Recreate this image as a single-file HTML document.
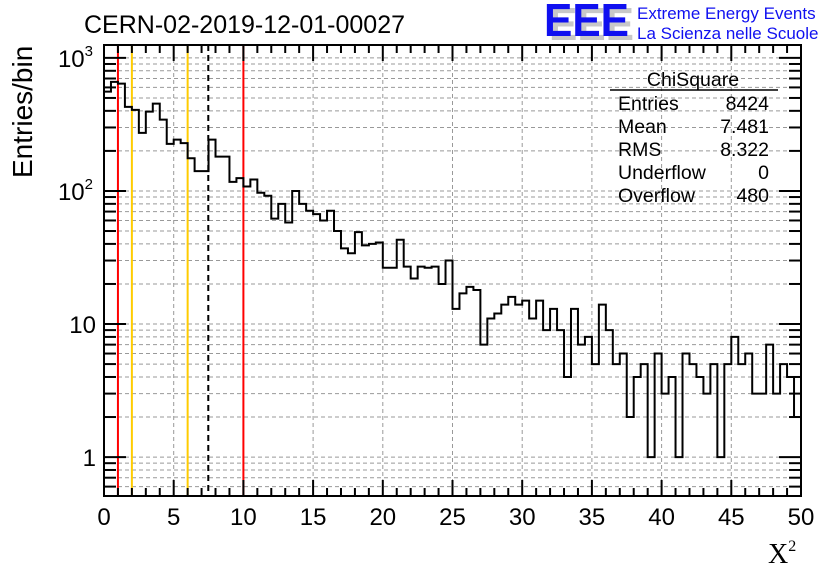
<!DOCTYPE html>
<html><head><meta charset="utf-8"><style>
body{margin:0;background:#fff}
svg{display:block;font-family:"Liberation Sans",sans-serif}
</style></head><body>
<svg id="c" width="836" height="572" viewBox="0 0 836 572" xmlns="http://www.w3.org/2000/svg">
<rect width="836" height="572" fill="#fff"/>
<g id="grid"></g>
<g id="vlines"></g>
<path id="hist" fill="none" stroke="#000" stroke-width="2"/>
<rect x="104" y="45" width="697" height="451" fill="none" stroke="#000" stroke-width="2"/>
<g id="ticks"></g>
<text x="84" y="33" font-size="25">CERN-02-2019-12-01-00027</text>
<g>
<text x="549" y="40" font-size="46" font-weight="bold" fill="#c8c8c8" textLength="85" lengthAdjust="spacingAndGlyphs">EEE</text>
<text x="544" y="36" font-size="46" font-weight="bold" fill="#1010f0" textLength="85" lengthAdjust="spacingAndGlyphs">EEE</text>
<text x="637" y="19" font-size="17" fill="#1010f0">Extreme Energy Events</text>
<text x="637" y="39" font-size="17" fill="#1010f0">La Scienza nelle Scuole</text>
</g>
<g font-size="19.5">
<text x="693" y="86" text-anchor="middle">ChiSquare</text>
<line x1="610" y1="90" x2="778" y2="90" stroke="#000" stroke-width="1.5"/>
<text x="618" y="110">Entries</text><text x="769" y="110" text-anchor="end">8424</text>
<text x="618" y="133">Mean</text><text x="769" y="133" text-anchor="end">7.481</text>
<text x="618" y="156">RMS</text><text x="769" y="156" text-anchor="end">8.322</text>
<text x="618" y="179">Underflow</text><text x="769" y="179" text-anchor="end">0</text>
<text x="618" y="202">Overflow</text><text x="769" y="202" text-anchor="end">480</text>
</g>
<text transform="translate(32,178) rotate(-90)" font-size="28">Entries/bin</text>
<text x="768" y="563" font-size="28" font-family="Liberation Serif,serif">X<tspan font-size="16" dy="-12">2</tspan></text>
</svg>
<script>
const counts = [558,660,641,428,407,273,395,453,344,226,243,229,176,141,141,243,181,181,117,125,
108,122,97,92,62,80,58,100,80,71,67,60,71,50,37,34,49,39,40,41,
26.5,26.5,43,27,22,27,26.5,27,20,30,13,17,19,18,7,11,12,14,16,14,
15,11,15,9,13,9,4,13,7,8,5,14,9,5,6,2,4,5,1,6,
3,4,1,6,5,4,3,5,1,5,8,5,6,3,3,7,3,5,4,2];
const binWidth = 0.5;
const xTickLabels = ["0","5","10","15","20","25","30","35","40","45","50"];
const yDecades = [0,1,2,3];
const yDecadeLabels = ["1","10","10²","10³"];
const redLines = [1,10];
const yellowLines = [2,6];
const meanLine = [7.481];

const NS="http://www.w3.org/2000/svg";
const X0=104,X1=801,Y0=496,Y1=45,XMAX=50;
const YMIN=Math.log10(0.51),YMAX=Math.log10(1250);
function xs(v){return X0+(v/XMAX)*(X1-X0);}
function ys(v){const l=Math.log10(Math.max(v,0.51));return Y0-(l-YMIN)/(YMAX-YMIN)*(Y0-Y1);}
function mk(tag,attrs,parent){const e=document.createElementNS(NS,tag);for(const k in attrs)e.setAttribute(k,attrs[k]);parent.appendChild(e);return e;}
const grid=document.getElementById('grid'),ticks=document.getElementById('ticks'),vl=document.getElementById('vlines');
for(let i=1;i<xTickLabels.length-1;i++){const x=xs(i*5);
const g=mk('line',{x1:x,x2:x,y1:Y1,y2:Y0,stroke:'#999','stroke-dasharray':'4,3','stroke-width':1},grid);

}
for(let d=-1;d<=3;d++){for(let m=1;m<=9;m++){const v=m*Math.pow(10,d);const y=ys(v);if(y>Y0-0.5||y<Y1+0.5)continue;
const g=mk('line',{x1:X0,x2:X1,y1:y,y2:y,stroke:'#999','stroke-dasharray':'4,3','stroke-width':1},grid);


const L=m===1?22:12;
mk('line',{x1:X0,x2:X0+L,y1:y,y2:y,stroke:'#000','stroke-width':2},ticks);
mk('line',{x1:X1,x2:X1-L,y1:y,y2:y,stroke:'#000','stroke-width':2},ticks);}}
for(let v=0;v<=XMAX;v++){const x=xs(v);const L=v%5===0?16:8;
mk('line',{x1:x,x2:x,y1:Y0,y2:Y0-L,stroke:'#000','stroke-width':2},ticks);
mk('line',{x1:x,x2:x,y1:Y1,y2:Y1+L,stroke:'#000','stroke-width':2},ticks);}
xTickLabels.forEach((t,i)=>{const e=mk('text',{x:xs(i*5),y:525,'font-size':24,'text-anchor':'middle'},ticks);e.textContent=t;

});
yDecades.forEach((d,i)=>{const y=ys(Math.pow(10,d));const e=mk('text',{x:96,y:y+9,'font-size':24,'text-anchor':'end'},ticks);
const lab=yDecadeLabels[i];
if(lab.length>2){e.textContent='10';const ts=mk('tspan',{'font-size':15,dy:-11},e);ts.textContent=lab.slice(2)==='²'?'2':'3';e.setAttribute('x',93);}
else e.textContent=lab;

});
redLines.forEach(v=>{const e=mk('line',{x1:xs(v),x2:xs(v),y1:Y1,y2:Y0,stroke:'#f00','stroke-width':2},vl);

});
yellowLines.forEach(v=>{const e=mk('line',{x1:xs(v),x2:xs(v),y1:Y1,y2:Y0,stroke:'#fc0','stroke-width':2},vl);

});
meanLine.forEach(v=>{const e=mk('line',{x1:xs(v),x2:xs(v),y1:Y1,y2:Y0,stroke:'#000','stroke-width':2,'stroke-dasharray':'6,4'},vl);

});
let d='';
counts.forEach((c,i)=>{const xa=xs(i*binWidth),xb=xs((i+1)*binWidth),y=ys(c);
d+=(i===0?'M':'L')+xa+','+y+'L'+xb+','+y;});
document.getElementById('hist').setAttribute('d',d);
</script>
</body></html>
